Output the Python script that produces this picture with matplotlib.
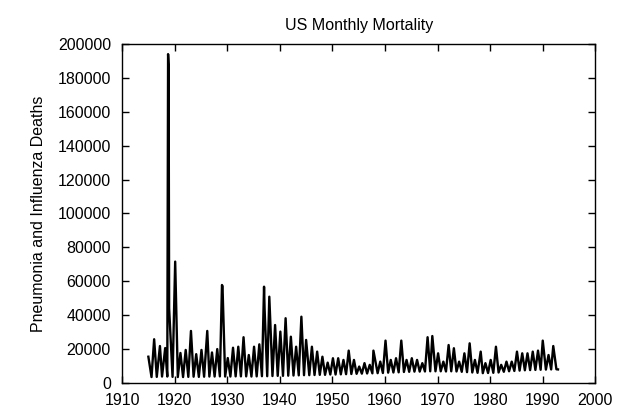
import numpy as np
import matplotlib
matplotlib.use("Agg")
from matplotlib import pyplot as plt

plt.rcParams['font.family'] = ['Liberation Sans', 'DejaVu Sans']

# winter peaks (decimal year, deaths)
PEAK_TIMES = [1915.0, 1916.1, 1917.2, 1918.2, 1918.75, 1918.85, 1918.95, 1920.1,
              1921.1, 1922.1, 1923.1, 1924.1, 1925.1, 1926.2, 1927.1, 1928.1,
              1929.0, 1929.1, 1930.1, 1931.1, 1932.1, 1933.1, 1934.1, 1935.1,
              1936.1, 1937.0, 1937.1, 1938.0, 1939.1, 1940.1, 1941.1, 1942.1,
              1943.1, 1944.1, 1945.0, 1946.1, 1947.1, 1948.1, 1949.1, 1950.1,
              1951.1, 1952.1, 1953.1, 1954.1, 1955.1, 1956.1, 1957.1, 1957.8,
              1959.1, 1960.1, 1961.1, 1962.1, 1963.1, 1964.1, 1965.1, 1966.1,
              1967.1, 1968.1, 1969.0, 1970.1, 1971.1, 1972.1, 1973.1, 1974.1,
              1975.1, 1976.1, 1977.1, 1978.2, 1979.1, 1980.1, 1981.1, 1982.1,
              1983.1, 1984.1, 1985.1, 1986.1, 1987.1, 1988.1, 1989.1, 1990.0,
              1991.1, 1992.0]
PEAK_DEATHS = [15500, 25800, 21800, 20600, 194000, 187600, 44000, 71600,
               17700, 19500, 30700, 17000, 19500, 30700, 18000, 20000,
               57800, 57000, 14700, 20800, 21400, 27000, 16500, 21400,
               22800, 56800, 44000, 50900, 34200, 30300, 38200, 27300,
               21400, 39100, 25400, 21400, 18500, 15500, 12000, 14600,
               14600, 13600, 19100, 13600, 9700, 11700, 10700, 19100,
               12600, 25000, 13600, 14600, 25000, 13600, 14600, 13600,
               11700, 27000, 27700, 17500, 12600, 22400, 20500, 12600,
               17500, 23400, 13600, 18500, 11700, 13600, 21400, 10700,
               12600, 12600, 18500, 17500, 17500, 18500, 19100, 25000,
               16500, 21800]

# summer troughs, one per year 1915..1992
TROUGH_YEARS = list(range(1915, 1993))
TROUGH_DEATHS = [3500, 3600, 3800, 3800, 3600, 3500, 3500, 3600, 3700, 3600,
                 3700, 3800, 3800, 3900, 3800, 3800, 3900, 3900, 3900, 3800,
                 3900, 4000, 4000, 4100, 4200, 4200, 4300, 4400, 4500, 4600,
                 4600, 4700, 4800, 4800, 5000, 5000, 5100, 5200, 5300, 5400,
                 5500, 5600, 5700, 5800, 5900, 6100, 6200, 6300, 6500, 6600,
                 6700, 6700, 6800, 6900, 6900, 6900, 6800, 6900, 6800, 6600,
                 6400, 6200, 6000, 5800, 5900, 6000, 6200, 6600, 6900, 7100,
                 7300, 7500, 7600, 7700, 7800, 7900, 8000, 8100]
END_TIME, END_DEATHS = 1992.9, 8000

t = PEAK_TIMES + [y + 0.6 for y in TROUGH_YEARS] + [END_TIME]
d = PEAK_DEATHS + TROUGH_DEATHS + [END_DEATHS]
order = np.argsort(t, kind="stable")
t = np.array(t)[order]
d = np.array(d)[order]

fig = plt.figure(figsize=(6.26, 4.07), dpi=100)
ax = fig.add_axes([0.195, 0.059, 0.756, 0.833])
ax.plot(t, d, color="black", linewidth=1.7)

ax.set_xlim(1910, 2000)
ax.set_ylim(0, 200000)
ax.set_xticks(range(1910, 2001, 10))
ax.set_yticks(range(0, 200001, 20000))
ax.tick_params(direction="in", top=True, right=True, length=5, width=1,
               labelsize=11.5, colors="black")
ax.tick_params(axis="x", pad=7)
ax.tick_params(axis="y", pad=8)
for s in ax.spines.values():
    s.set_linewidth(1)
ax.set_ylabel("Pneumonia and Influenza Deaths", fontsize=11.5, labelpad=8)
ax.set_title("US Monthly Mortality", fontsize=11.5, pad=10)

plt.savefig("out.png", dpi=100)
